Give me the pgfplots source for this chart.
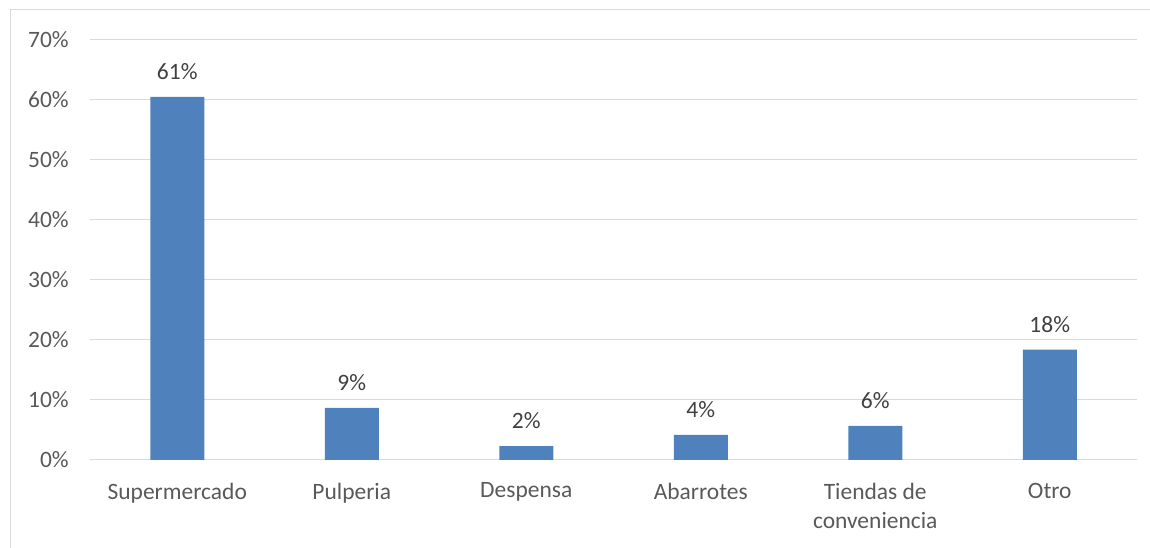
\documentclass[border=0pt]{standalone}
\usepackage{pgfplots}
\pgfplotsset{compat=1.18}
\usepackage{fontspec}
\setmainfont{Carlito}
\definecolor{barblue}{HTML}{4F81BD}
\definecolor{gridgray}{HTML}{D9D9D9}
\definecolor{ticktext}{HTML}{595959}
\definecolor{labeltext}{HTML}{404040}

\begin{document}
\begin{tikzpicture}
  % picture frame, 1px = 0.75pt
  \path[use as bounding box] (0,0) rectangle (862.5pt,411pt);
  \draw[gridgray, line width=0.75pt] (7.5pt,0) -- (7.5pt,403.5pt) -- (862.5pt,403.5pt);
  \begin{axis}[
      at={(67.5pt,66pt)}, anchor=south west,
      scale only axis,
      width=785.25pt, height=315pt,
      ybar, bar width=40.5pt,
      xmin=-0.5, xmax=5.5,
      ymin=0, ymax=70,
      xtick=data,
      xticklabels={Supermercado, Pulperia, Despensa, Abarrotes, {Tiendas de\\conveniencia}, Otro},
      ytick={0,10,...,70},
      yticklabels={0\%,10\%,20\%,30\%,40\%,50\%,60\%,70\%},
      major tick length=0pt,
      axis line style={draw=none},
      ymajorgrids,
      grid style={gridgray, line width=0.75pt},
      font=\fontsize{17.6}{21.75}\selectfont,
      xticklabel style={ticktext, align=center, anchor=north, inner sep=0pt, yshift=-17pt},
      yticklabel style={ticktext, anchor=east, inner sep=0pt, xshift=-15.75pt},
      point meta=explicit symbolic,
      nodes near coords,
      every node near coord/.style={labeltext, anchor=base, inner sep=0pt, yshift=13pt},
      clip=false,
    ]
    \addplot[fill=barblue, draw=none] coordinates {
      (0,60.5) [61\%]
      (1,8.7)  [9\%]
      (2,2.3)  [2\%]
      (3,4.2)  [4\%]
      (4,5.7)  [6\%]
      (5,18.4) [18\%]
    };
  \end{axis}
\end{tikzpicture}
\end{document}
